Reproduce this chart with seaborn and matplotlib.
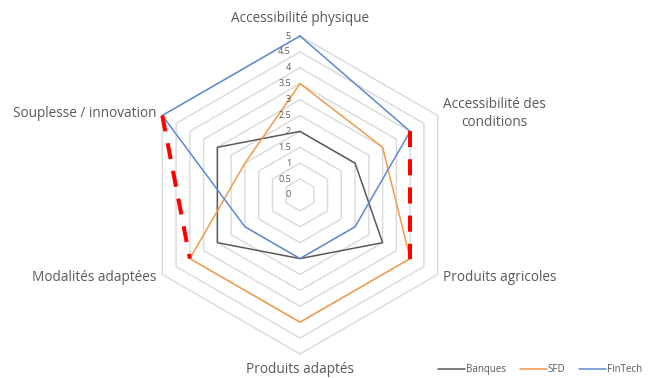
import numpy as np
import pandas as pd
import matplotlib
matplotlib.use("Agg")
from matplotlib import pyplot as plt
import seaborn as sns

categories = ["Accessibilité physique", "Accessibilité des\nconditions", "Produits agricoles",
              "Produits adaptés", "Modalités adaptées", "Souplesse / innovation"]
banques = [2, 2, 3, 2, 3, 3]
sfd = [3.5, 3, 4, 4, 4, 2]
fintech = [5, 4, 2, 2, 2, 5]
series = ["Banques", "SFD", "FinTech"]
levels = [0, 0.5, 1, 1.5, 2, 2.5, 3, 3.5, 4, 4.5, 5]
# highlighted edges: (start axis, start value, end axis, end value)
highlights = [(1, 4, 2, 4), (5, 5, 4, 4)]

sns.set_theme(style="white")
plt.rcParams['font.family'] = ['Open Sans', 'DejaVu Sans']

n = len(categories)
theta = np.arange(n) * 2 * np.pi / n

rows = []
for name, vals in zip(series, [banques, sfd, fintech]):
    for t, v in zip(list(theta) + [2 * np.pi], vals + vals[:1]):
        rows.append({"theta": t, "value": v, "serie": name})
df = pd.DataFrame(rows)

fig = plt.figure(figsize=(6.48, 3.78), dpi=100)
ax = fig.add_axes([0.2176, 0.0635, 0.4907, 0.8413], projection="polar")
ax.set_theta_zero_location("N")
ax.set_theta_direction(-1)
ax.set_ylim(0, 5)
ax.grid(False)
ax.spines['polar'].set_visible(False)
ax.set_facecolor("none")

# hexagonal grid rings
ring_t = list(theta) + [2 * np.pi]
for lv in levels[1:]:
    ax.plot(ring_t, [lv] * (n + 1), color="#d9d9d9", lw=1.0, clip_on=False, zorder=1)

palette = {"Banques": "#595959", "SFD": "#F39A4A", "FinTech": "#5A8BD2"}
sns.lineplot(data=df, x="theta", y="value", hue="serie", sort=False, palette=palette,
             lw=1.1, ax=ax, clip_on=False, zorder=3)

for a0, v0, a1, v1 in highlights:
    ax.plot([theta[a0], theta[a1]], [v0, v1], color="#FF0000", lw=2.9,
            linestyle=(0, (4, 3)), clip_on=False, zorder=4)

ax.set_xticks([])
ax.set_yticks([])
ax.set_xlabel("")
ax.set_ylabel("")

for lv in levels:
    ax.annotate(f"{lv:g}", (0, lv), xytext=(-9, 0), textcoords="offset pixels",
                ha="right", va="center", fontsize=6.5, color="#595959")

label_style = [
    ((0, 18), "center", "center"),
    ((5, 2), "left", "center"),
    ((5, -3), "left", "center"),
    ((0, -16), "center", "center"),
    ((-6, -3), "right", "center"),
    ((-6, 2), "right", "center"),
]
for t, lab, (off, ha, va) in zip(theta, categories, label_style):
    ax.annotate(lab, (t, 5), xytext=off, textcoords="offset pixels", ha=ha, va=va,
                fontsize=9.8, color="#595959", multialignment="center",
                linespacing=1.3, annotation_clip=False)

handles, labels = ax.get_legend_handles_labels()
ax.get_legend().remove()
fig.legend(handles, labels, loc="lower right", bbox_to_anchor=(1.005, -0.015), ncol=3,
           frameon=False, fontsize=7, handlelength=2.8, handletextpad=0.1,
           columnspacing=1.4, labelcolor="#595959")

plt.savefig("out.png", dpi=100)
